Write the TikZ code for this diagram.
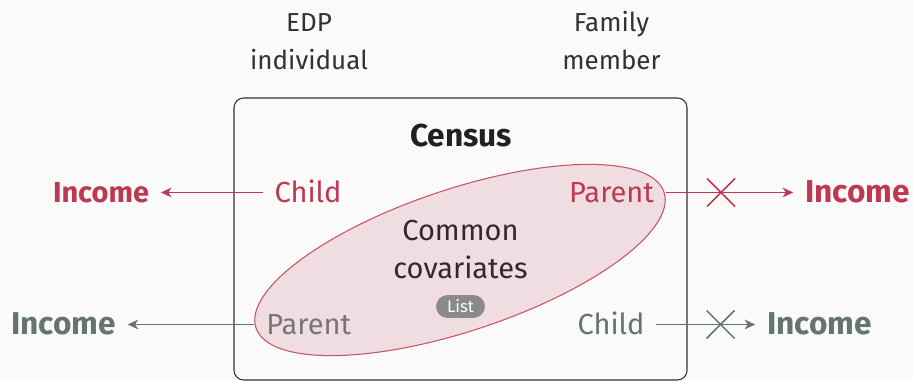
\documentclass[tikz,border=0pt]{standalone}
\usepackage{fontspec}
\setmainfont{Fira Sans}
\usetikzlibrary{arrows.meta,shapes.misc}

\definecolor{bgcol}{RGB}{250,250,250}
\definecolor{incred}{RGB}{190,57,80}
\definecolor{ellline}{RGB}{200,82,102}
\definecolor{ellfill}{RGB}{240,221,225}
\definecolor{incgray}{RGB}{100,116,112}
\definecolor{pargray}{RGB}{118,118,118}
\definecolor{boxline}{RGB}{50,50,50}
\definecolor{listgray}{RGB}{138,138,138}
\definecolor{covtext}{RGB}{52,40,44}

\tikzset{
	lbl/.style={text height=2.35ex, text depth=.2ex, inner xsep=6.8pt, inner ysep=0pt, outer sep=0pt},
	role/.style={lbl, font=\fontsize{16.5}{19}\selectfont},
	income/.style={lbl, font=\bfseries\fontsize{18}{20}\selectfont},
	link/.style={line width=1pt, -{Stealth[length=6pt,width=5.5pt,inset=1.8pt]}},
	cut/.style={cross out, draw, line width=0.9pt, minimum size=0.56cm, inner sep=0pt, outer sep=0pt}
}

\begin{document}
\begin{tikzpicture}[x=0.02cm, y=0.02cm]

\fill[bgcol] (0,0) rectangle (913,381);
\useasboundingbox (0,0) rectangle (913,381);

% census box and the overlap of covariates
\draw[boxline, line width=0.6pt, rounded corners=5.5pt] (234,1) rectangle (687,283);
\draw[ellline, fill=ellfill, line width=0.6pt, rotate around={18.4:(460,121)}]
	(460,121) ellipse [x radius=215, y radius=71];

% column heads
\node[align=center, anchor=base, text=boxline, font=\fontsize{14.8}{22}\selectfont] (edp) at (309,311) {EDP\\individual};
\node[align=center, anchor=base, text=boxline, font=\fontsize{14.8}{22}\selectfont] (fam) at (611.5,311) {Family\\member};

\node[anchor=base, text=black!87, font=\bfseries\fontsize{18}{20}\selectfont] (census) at (461,234.3) {Census};
\node[align=center, anchor=base, text=covtext, font=\fontsize{16.5}{22}\selectfont] (cov) at (460.5,102) {Common\\covariates};
\node[fill=listgray, text=white, rounded corners=6.5pt, minimum width=27.8pt, minimum height=13pt, inner sep=0pt,
	font=\fontsize{9.5}{9}\selectfont] (list) at (460.5,74.5) {List};

% roles inside the box
\node[role, text=incred] (childA) at (308,188.5) {Child};
\node[role, text=incred] (parentA) at (611.5,188.5) {Parent};
\node[role, text=pargray] (parentB) at (308.7,56.5) {Parent};
\node[role, text=incgray] (childB) at (611,56.5) {Child};

% incomes
\node[income, text=incred, font=\bfseries\fontsize{16.5}{20}\selectfont] (incA) at (101,188.5) {Income};
\node[income, text=incred] (incB) at (857.5,188.5) {Income};
\node[income, text=incgray] (incC) at (63.4,56.5) {Income};
\node[income, text=incgray] (incD) at (819.5,56.5) {Income};

\draw[link, incred] (childA) -- (incA);
\draw[link, incred] (parentA) -- node[cut, pos=.434] (cutA) {} (incB);
\draw[link, incgray] (parentB) -- (incC);
\draw[link, incgray] (childB) -- node[cut, pos=.65] (cutB) {} (incD);

\end{tikzpicture}
\end{document}
